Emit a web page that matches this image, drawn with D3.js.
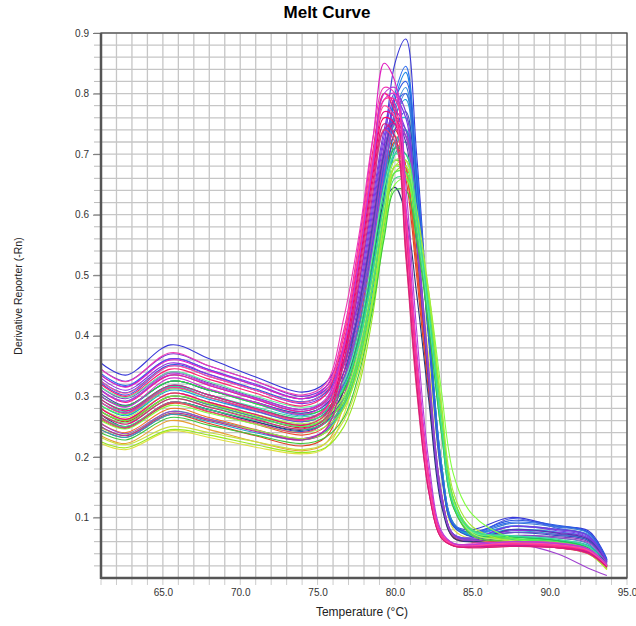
<!DOCTYPE html>
<html>
<head>
<meta charset="utf-8">
<script src="https://cdn.jsdelivr.net/npm/d3@7"></script>
<style>
    body { margin: 0; background: #fff; }
    svg { display: block; font-family: "Liberation Sans", Arial, sans-serif; }
</style>
</head>
<body>
<svg width="636" height="626"></svg>
<script>
const temps = [61, 62.6, 65.5, 68, 71, 74, 75.5, 76.7, 77.7, 78.6, 79.3, 80, 80.7, 81.4, 82.2, 83, 83.8, 85, 87.5, 90.5, 92.5, 93.7];

const warmColors = ["#f07020", "#e04020", "#e8a030", "#d03030", "#e0e040", "#f05030"];
const warmWells = [
    [0.255,0.240,0.280,0.265,0.245,0.228,0.240, 0.30,0.41,0.55,0.66,0.72,0.68,0.53,0.32,0.14,0.070,0.062,0.062,0.056,0.048,0.020],
    [0.245,0.232,0.270,0.255,0.235,0.218,0.232, 0.30,0.42,0.56,0.67,0.72,0.66,0.50,0.30,0.13,0.068,0.060,0.060,0.054,0.046,0.018],
    [0.235,0.222,0.260,0.245,0.225,0.210,0.222, 0.285,0.40,0.54,0.65,0.71,0.67,0.52,0.32,0.14,0.070,0.060,0.058,0.052,0.044,0.018],
    [0.275,0.258,0.300,0.286,0.266,0.248,0.262, 0.33,0.45,0.59,0.70,0.74,0.68,0.52,0.31,0.13,0.066,0.060,0.062,0.056,0.048,0.020],
    [0.222,0.212,0.243,0.232,0.216,0.205,0.214, 0.27,0.37,0.50,0.62,0.69,0.67,0.55,0.36,0.17,0.080,0.064,0.056,0.050,0.040,0.014],
    [0.262,0.247,0.288,0.274,0.254,0.236,0.250, 0.31,0.43,0.57,0.68,0.73,0.68,0.52,0.31,0.13,0.067,0.060,0.060,0.055,0.047,0.020]
];

const tealColors = ["#20b0a0", "#18c8c8", "#2aa0b8"];
const tealWells = [
    [0.250,0.235,0.275,0.262,0.244,0.230,0.242, 0.29,0.37,0.49,0.61,0.70,0.72,0.60,0.40,0.19,0.090,0.068,0.064,0.060,0.050,0.020],
    [0.300,0.284,0.325,0.310,0.290,0.272,0.285, 0.33,0.41,0.53,0.65,0.75,0.76,0.63,0.41,0.19,0.088,0.070,0.078,0.072,0.062,0.024],
    [0.275,0.260,0.300,0.286,0.266,0.250,0.262, 0.31,0.39,0.51,0.63,0.72,0.74,0.61,0.40,0.19,0.088,0.068,0.070,0.066,0.056,0.022]
];

const blueColors = ["#3838d8", "#2c6cf0", "#1e88e5", "#4a5ae8", "#1a9ad8", "#2a4fc0", "#3090e0", "#20a8c8", "#3a78d8", "#2e5ae0"];
const blueWells = [
    [0.355,0.335,0.385,0.362,0.332,0.307,0.322, 0.38,0.46,0.58,0.71,0.85,0.89,0.70,0.42,0.18,0.088,0.080,0.100,0.085,0.078,0.032],
    [0.338,0.318,0.362,0.344,0.318,0.296,0.310, 0.36,0.44,0.56,0.69,0.80,0.845,0.68,0.41,0.18,0.085,0.075,0.092,0.086,0.075,0.030],
    [0.310,0.292,0.335,0.318,0.295,0.275,0.290, 0.34,0.42,0.55,0.68,0.79,0.835,0.67,0.42,0.185,0.088,0.074,0.085,0.080,0.072,0.030],
    [0.322,0.302,0.350,0.333,0.310,0.290,0.305, 0.355,0.44,0.56,0.68,0.78,0.80,0.63,0.39,0.17,0.085,0.072,0.098,0.082,0.070,0.028],
    [0.285,0.268,0.310,0.295,0.275,0.258,0.272, 0.32,0.40,0.52,0.65,0.76,0.79,0.64,0.40,0.18,0.085,0.070,0.080,0.076,0.066,0.026],
    [0.265,0.248,0.290,0.278,0.258,0.242,0.256, 0.30,0.38,0.50,0.63,0.74,0.77,0.62,0.39,0.175,0.085,0.068,0.075,0.070,0.062,0.024],
    [0.300,0.283,0.325,0.310,0.288,0.268,0.282, 0.33,0.41,0.53,0.66,0.77,0.81,0.65,0.41,0.18,0.088,0.072,0.086,0.080,0.070,0.028],
    [0.245,0.232,0.270,0.258,0.240,0.228,0.240, 0.285,0.36,0.48,0.60,0.71,0.74,0.61,0.40,0.185,0.090,0.070,0.068,0.062,0.054,0.022],
    [0.290,0.273,0.318,0.302,0.280,0.262,0.276, 0.32,0.41,0.53,0.66,0.76,0.80,0.66,0.42,0.19,0.090,0.074,0.090,0.084,0.074,0.030],
    [0.325,0.306,0.352,0.336,0.312,0.291,0.306, 0.355,0.44,0.56,0.69,0.79,0.82,0.66,0.41,0.18,0.087,0.076,0.095,0.087,0.076,0.030]
];

const purpleColors = ["#7a3ad8", "#9030e0", "#8040c0", "#6a50d0", "#a040d0", "#283878", "#5038b0", "#7040e8", "#9a48c8"];
const purpleWells = [
    [0.345,0.325,0.370,0.350,0.325,0.300,0.315, 0.375,0.49,0.63,0.74,0.80,0.77,0.58,0.33,0.13,0.072,0.066,0.085,0.080,0.070,0.028],
    [0.330,0.310,0.355,0.336,0.310,0.288,0.302, 0.36,0.47,0.61,0.72,0.77,0.74,0.56,0.32,0.13,0.070,0.064,0.078,0.075,0.066,0.026],
    [0.315,0.296,0.340,0.322,0.298,0.278,0.292, 0.35,0.46,0.60,0.71,0.76,0.73,0.56,0.32,0.13,0.070,0.062,0.070,0.068,0.060,0.025],
    [0.290,0.272,0.315,0.298,0.276,0.258,0.272, 0.33,0.44,0.58,0.70,0.76,0.74,0.58,0.34,0.14,0.072,0.064,0.075,0.072,0.064,0.027],
    [0.255,0.238,0.275,0.262,0.244,0.230,0.244, 0.30,0.41,0.55,0.67,0.74,0.73,0.57,0.34,0.14,0.070,0.060,0.058,0.040,0.016,0.004],
    [0.270,0.250,0.290,0.278,0.258,0.244,0.258, 0.31,0.41,0.53,0.62,0.645,0.60,0.47,0.29,0.12,0.066,0.060,0.068,0.062,0.052,0.022],
    [0.305,0.285,0.325,0.310,0.290,0.272,0.286, 0.34,0.45,0.59,0.70,0.755,0.72,0.55,0.32,0.13,0.070,0.062,0.080,0.074,0.064,0.026],
    [0.335,0.316,0.362,0.344,0.320,0.296,0.310, 0.37,0.48,0.62,0.73,0.79,0.76,0.57,0.33,0.13,0.072,0.066,0.085,0.078,0.068,0.027],
    [0.280,0.262,0.305,0.290,0.270,0.253,0.268, 0.325,0.43,0.57,0.69,0.75,0.73,0.56,0.33,0.135,0.070,0.062,0.070,0.066,0.058,0.025]
];

const greenColors = ["#30e030", "#50f050", "#7ce830", "#40d080", "#98e820", "#c8e040", "#20c060", "#60f0a0", "#80ff40", "#3cc83c", "#b0f060", "#58e858", "#a8e838", "#38d8a0"];
const greenWells = [
    [0.300,0.284,0.325,0.310,0.288,0.270,0.280, 0.31,0.39,0.51,0.62,0.69,0.68,0.59,0.44,0.26,0.125,0.078,0.068,0.062,0.050,0.020],
    [0.285,0.270,0.312,0.298,0.278,0.260,0.270, 0.30,0.37,0.49,0.60,0.68,0.67,0.58,0.43,0.25,0.120,0.074,0.066,0.060,0.048,0.018],
    [0.275,0.260,0.300,0.288,0.268,0.252,0.262, 0.29,0.36,0.47,0.58,0.67,0.67,0.59,0.45,0.27,0.130,0.076,0.064,0.058,0.046,0.016],
    [0.265,0.250,0.290,0.278,0.260,0.245,0.256, 0.285,0.355,0.47,0.58,0.66,0.66,0.57,0.42,0.24,0.115,0.072,0.064,0.058,0.046,0.018],
    [0.225,0.215,0.245,0.236,0.220,0.207,0.215, 0.25,0.32,0.44,0.57,0.67,0.68,0.60,0.46,0.28,0.130,0.078,0.062,0.054,0.042,0.015],
    [0.232,0.220,0.250,0.240,0.225,0.212,0.222, 0.26,0.33,0.46,0.59,0.68,0.68,0.59,0.44,0.26,0.120,0.070,0.060,0.052,0.040,0.014],
    [0.295,0.278,0.318,0.302,0.280,0.263,0.275, 0.315,0.40,0.53,0.64,0.71,0.70,0.60,0.44,0.25,0.120,0.074,0.068,0.062,0.050,0.020],
    [0.315,0.298,0.340,0.324,0.300,0.282,0.292, 0.325,0.41,0.54,0.645,0.70,0.69,0.59,0.43,0.25,0.120,0.076,0.070,0.064,0.052,0.020],
    [0.260,0.246,0.285,0.272,0.254,0.240,0.250, 0.28,0.35,0.46,0.57,0.65,0.66,0.59,0.47,0.31,0.170,0.105,0.066,0.058,0.046,0.018],
    [0.240,0.228,0.265,0.252,0.236,0.222,0.232, 0.265,0.34,0.45,0.56,0.64,0.64,0.56,0.41,0.24,0.115,0.070,0.060,0.054,0.044,0.016],
    [0.280,0.265,0.305,0.290,0.270,0.255,0.266, 0.30,0.38,0.50,0.61,0.69,0.69,0.60,0.45,0.27,0.125,0.074,0.062,0.056,0.044,0.017],
    [0.270,0.256,0.296,0.283,0.264,0.250,0.260, 0.295,0.37,0.49,0.60,0.67,0.67,0.59,0.45,0.27,0.130,0.080,0.066,0.058,0.046,0.018],
    [0.248,0.236,0.272,0.260,0.244,0.230,0.240, 0.28,0.35,0.47,0.59,0.68,0.69,0.61,0.47,0.29,0.140,0.085,0.060,0.052,0.040,0.015],
    [0.290,0.275,0.316,0.302,0.282,0.266,0.276, 0.315,0.39,0.51,0.62,0.70,0.70,0.60,0.44,0.25,0.120,0.078,0.070,0.064,0.052,0.020]
];

const pinkColors = ["#e020c0", "#ff1493", "#e8108a", "#ff2070", "#d030d0", "#ff0066", "#c020a0", "#f03cb4", "#e0407a", "#ff3399", "#ff4fa0", "#d81b7a", "#b83cd8"];
const pinkWells = [
    [0.335,0.315,0.360,0.342,0.318,0.296,0.314, 0.41,0.56,0.73,0.85,0.82,0.60,0.35,0.150,0.070,0.055,0.054,0.056,0.054,0.045,0.020],
    [0.310,0.290,0.335,0.318,0.295,0.275,0.292, 0.39,0.54,0.70,0.80,0.78,0.58,0.35,0.155,0.070,0.055,0.053,0.055,0.052,0.044,0.020],
    [0.295,0.276,0.318,0.302,0.280,0.262,0.280, 0.38,0.53,0.68,0.77,0.76,0.57,0.34,0.145,0.068,0.053,0.052,0.054,0.050,0.042,0.019],
    [0.320,0.300,0.345,0.328,0.305,0.284,0.302, 0.40,0.55,0.71,0.80,0.77,0.56,0.33,0.145,0.068,0.054,0.053,0.057,0.053,0.045,0.020],
    [0.300,0.282,0.330,0.312,0.290,0.270,0.288, 0.375,0.52,0.68,0.79,0.80,0.62,0.38,0.175,0.075,0.057,0.056,0.060,0.056,0.048,0.022],
    [0.280,0.262,0.305,0.290,0.270,0.252,0.270, 0.37,0.52,0.67,0.76,0.75,0.56,0.33,0.145,0.066,0.053,0.052,0.053,0.050,0.042,0.018],
    [0.250,0.235,0.272,0.260,0.242,0.228,0.245, 0.34,0.49,0.64,0.74,0.75,0.58,0.35,0.155,0.070,0.054,0.052,0.054,0.050,0.042,0.020],
    [0.345,0.324,0.372,0.350,0.325,0.302,0.320, 0.43,0.57,0.73,0.81,0.80,0.60,0.36,0.160,0.072,0.056,0.056,0.060,0.058,0.048,0.022],
    [0.265,0.248,0.290,0.275,0.256,0.240,0.258, 0.355,0.50,0.65,0.74,0.72,0.53,0.31,0.140,0.066,0.053,0.050,0.052,0.050,0.040,0.018],
    [0.290,0.272,0.314,0.298,0.278,0.260,0.278, 0.38,0.53,0.69,0.79,0.79,0.60,0.36,0.165,0.072,0.055,0.053,0.056,0.053,0.045,0.020],
    [0.325,0.305,0.350,0.333,0.310,0.290,0.308, 0.405,0.55,0.70,0.78,0.76,0.56,0.33,0.150,0.068,0.055,0.054,0.058,0.055,0.046,0.021],
    [0.270,0.254,0.296,0.282,0.262,0.246,0.264, 0.36,0.51,0.66,0.75,0.73,0.54,0.32,0.140,0.066,0.053,0.050,0.052,0.050,0.041,0.018],
    [0.310,0.292,0.338,0.320,0.297,0.278,0.295, 0.385,0.53,0.69,0.80,0.81,0.65,0.41,0.190,0.078,0.057,0.055,0.060,0.057,0.048,0.022]
];

const xTicks = [65, 70, 75, 80, 85, 90, 95];
const yTicks = [0.1, 0.2, 0.3, 0.4, 0.5, 0.6, 0.7, 0.8, 0.9];

const svg = d3.select("svg");
const margin = {left: 101, right: 9, top: 33, bottom: 48};
const W = 636, H = 626;

const x = d3.scaleLinear().domain([61, 95]).range([margin.left, W - margin.right]);
const y = d3.scaleLinear().domain([0, 0.9]).range([H - margin.bottom, margin.top]);

// grid: 1 degree by 0.02
const grid = svg.append("g");
grid.selectAll("line.v")
    .data(d3.range(61, 96))
    .enter().append("line")
    .attr("x1", d => x(d)).attr("x2", d => x(d))
    .attr("y1", y(0.9)).attr("y2", y(0))
    .attr("stroke", "#c6c6c6").attr("stroke-width", 1.3);
grid.selectAll("line.h")
    .data(d3.range(0, 46).map(i => i * 0.02))
    .enter().append("line")
    .attr("x1", x(61)).attr("x2", x(95))
    .attr("y1", d => y(d)).attr("y2", d => y(d))
    .attr("stroke", "#c6c6c6").attr("stroke-width", 1.3);

// minor ticks outside the frame
svg.append("g").selectAll("line")
    .data(d3.range(1, 46).map(i => i * 0.02))
    .enter().append("line")
    .attr("x1", x(61) - 7).attr("x2", x(61))
    .attr("y1", d => y(d)).attr("y2", d => y(d))
    .attr("stroke", "#bbb").attr("stroke-width", 1);
svg.append("g").selectAll("line")
    .data(d3.range(61, 96))
    .enter().append("line")
    .attr("x1", d => x(d)).attr("x2", d => x(d))
    .attr("y1", y(0)).attr("y2", y(0) + 7)
    .attr("stroke", "#ccc").attr("stroke-width", 1);

// curves
const line = d3.line()
    .x((d, i) => x(temps[i]))
    .y(d => y(d))
    .curve(d3.curveCatmullRom.alpha(0.5));

const groups = [
    [warmWells, warmColors],
    [tealWells, tealColors],
    [blueWells, blueColors],
    [purpleWells, purpleColors],
    [greenWells, greenColors],
    [pinkWells, pinkColors]
];
const curves = svg.append("g");
groups.forEach(([wells, colors]) => {
    curves.selectAll(null)
        .data(wells)
        .enter().append("path")
        .attr("d", d => line(d))
        .attr("fill", "none")
        .attr("stroke", (d, i) => colors[i])
        .attr("stroke-width", 1.1);
});

// axes
const yAxis = d3.axisLeft(y).tickValues(yTicks).tickFormat(d3.format(".1f")).tickSize(8).tickPadding(4);
const gy = svg.append("g").attr("transform", `translate(${x(61)},0)`).call(yAxis);
const xAxis = d3.axisBottom(x).tickValues(xTicks).tickFormat(d3.format(".1f")).tickSize(0).tickPadding(11);
const gx = svg.append("g").attr("transform", `translate(0,${y(0)})`).call(xAxis);
[gx, gy].forEach(g => {
    g.select(".domain").remove();
    g.selectAll("text").attr("fill", "#333").style("font-size", "10px");
    g.selectAll("line").attr("stroke", "#777");
});

// frame
svg.append("rect")
    .attr("x", x(61)).attr("y", y(0.9))
    .attr("width", x(95) - x(61)).attr("height", y(0) - y(0.9))
    .attr("fill", "none").attr("stroke", "#444").attr("stroke-width", 1.2);
svg.append("line")
    .attr("x1", x(61)).attr("x2", x(61)).attr("y1", y(0.9)).attr("y2", y(0) + 1)
    .attr("stroke", "#555").attr("stroke-width", 2.5);
svg.append("line")
    .attr("x1", x(61)).attr("x2", x(95)).attr("y1", y(0)).attr("y2", y(0))
    .attr("stroke", "#555").attr("stroke-width", 2.5);

// titles
svg.append("text")
    .attr("x", 327).attr("y", 18)
    .attr("text-anchor", "middle")
    .style("font-size", "17px").style("font-weight", "bold")
    .text("Melt Curve");
svg.append("text")
    .attr("x", 362).attr("y", 616)
    .attr("text-anchor", "middle")
    .style("font-size", "12px").attr("fill", "#222")
    .text("Temperature (°C)");
svg.append("text")
    .attr("transform", "translate(22,296) rotate(-90)")
    .attr("text-anchor", "middle")
    .style("font-size", "10.5px").attr("fill", "#222")
    .text("Derivative Reporter (-Rn)");
</script>
</body>
</html>
